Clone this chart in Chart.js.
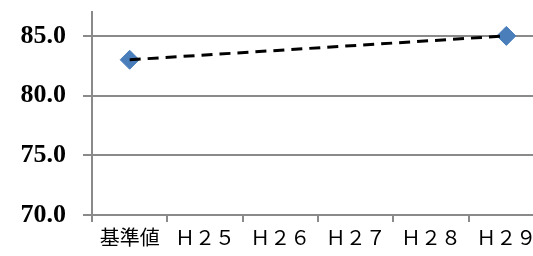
<!DOCTYPE html>
<html>
<head>
<meta charset="utf-8">
<script src="https://cdn.jsdelivr.net/npm/chart.js@4/dist/chart.umd.min.js"></script>
<style>
  html, body { margin: 0; padding: 0; overflow: hidden; background: #fff; }
  canvas { display: block; }
</style>
</head>
<body>
<canvas id="myChart" width="544" height="256"></canvas>
<script>
const categories = ["基準値", "Ｈ２５", "Ｈ２６", "Ｈ２７", "Ｈ２８", "Ｈ２９"];
const values = [83.0, null, null, null, null, 85.0];
const yTicks = [70, 75, 80, 85];

const gridColor = "#8a8a8a";

var ctx = document.getElementById("myChart").getContext("2d");
var chart = new Chart(ctx, {
  type: "line",
  data: {
    labels: categories,
    datasets: [
      {
        // dashed line, drawn over the markers
        data: values,
        spanGaps: true,
        borderColor: "#000",
        borderWidth: 3,
        borderDash: [11, 7],
        pointRadius: 0,
        fill: false,
        order: 1,
      },
      {
        data: values,
        showLine: false,
        pointStyle: "rectRot",
        pointRadius: 9.5,
        pointBackgroundColor: "#4a7ebb",
        pointBorderColor: "#4a7ebb",
        pointBorderWidth: 1,
        order: 2,
      },
    ],
  },
  options: {
    responsive: false,
    animation: false,
    layout: { autoPadding: false, padding: { top: 12, left: 0, right: 0, bottom: 0 } },
    plugins: { legend: { display: false }, tooltip: { enabled: false } },
    scales: {
      x: {
        offset: true,
        grid: {
          offset: true,
          drawOnChartArea: false,
          color: gridColor,
          lineWidth: 2,
          tickLength: 7,
        },
        border: { display: false },
        ticks: {
          color: "#000",
          font: { family: "'Noto Sans CJK JP'", size: 20 },
          padding: 3,
          maxRotation: 0,
          autoSkip: false,
        },
        afterFit: (axis) => {
          axis.height = 41;
          axis.paddingLeft = 0;
          axis.paddingRight = 0;
        },
      },
      y: {
        min: 70,
        max: 87,
        afterBuildTicks: (axis) => {
          axis.ticks = yTicks.map((v) => ({ value: v }));
        },
        grid: {
          color: gridColor,
          lineWidth: 2,
          tickLength: 9,
        },
        border: { color: gridColor, width: 2 },
        ticks: {
          color: "#000",
          font: { family: "'Liberation Serif'", size: 26, weight: "bold" },
          padding: 17,
          callback: (v) => v.toFixed(1),
        },
        afterFit: (axis) => {
          axis.width = 92;
          axis.paddingTop = 0;
          axis.paddingBottom = 0;
        },
      },
    },
  },
});
</script>
</body>
</html>
